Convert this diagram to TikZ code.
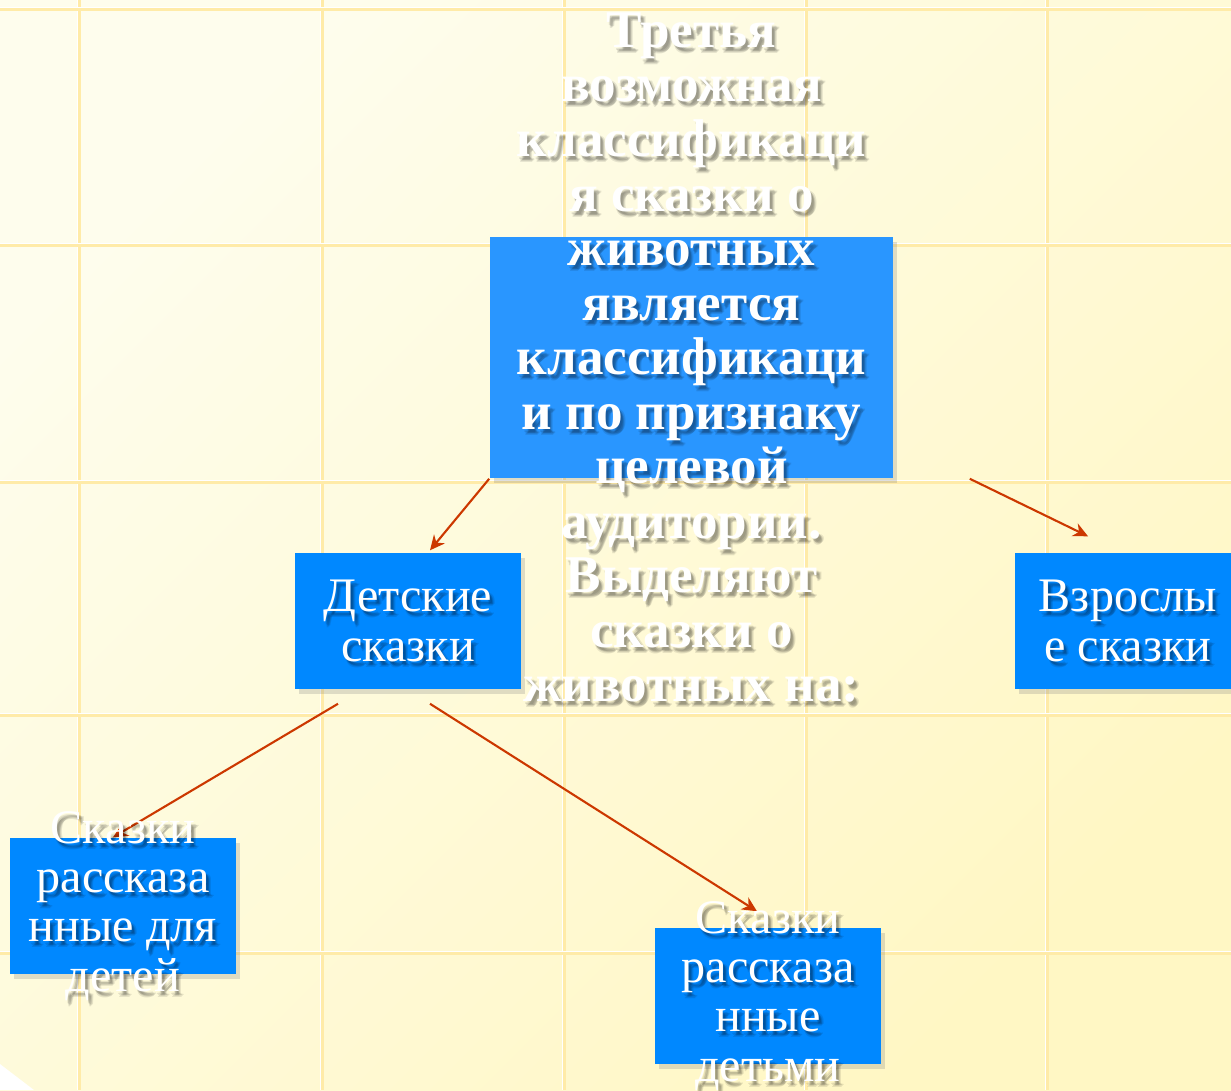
\documentclass[tikz,border=0pt]{standalone}
\usepackage{fontspec}
\setmainfont{Liberation Serif}
\usetikzlibrary{positioning}
\usetikzlibrary{calc}
\usetikzlibrary{shadows}
\usetikzlibrary{arrows.meta}
\definecolor{bgtl}{RGB}{254,253,237}
\definecolor{bgbr}{RGB}{255,247,196}
\definecolor{gridline}{RGB}{255,235,168}
\definecolor{mainblue}{RGB}{41,150,255}
\definecolor{boxblue}{RGB}{0,136,255}
\definecolor{arrowred}{RGB}{204,56,0}

\begin{document}
\begin{tikzpicture}[x=0.01cm,y=-0.01cm,
  box/.style={rectangle, fill=boxblue, inner sep=0pt, minimum width=2.26cm, minimum height=1.36cm,
    drop shadow={shadow xshift=1.2pt, shadow yshift=-1.5pt, opacity=0.25}},
  mainbox/.style={box, fill=mainblue, minimum width=4.03cm, minimum height=2.41cm},
  boxtext/.style={text=white, align=center, inner sep=0pt, font=\fontsize{13.7}{14}\selectfont},
  maintext/.style={text=white, align=center, inner sep=0pt, font=\bfseries\fontsize{15.1}{15.5}\selectfont},
  textshadow/.style={text=black, text opacity=0.09},
  arrow/.style={draw=arrowred, line width=0.6pt, -{Stealth[length=4.2pt,width=4pt]}}]

  % fond
  \useasboundingbox (0,0) rectangle (1231,1090);
  \shade[top color=bgtl, bottom color=bgbr, shading angle=45] (0,0) rectangle (1231,1090);
  \foreach \gx in {79, 322, 564, 806, 1047} {
    \draw[white, line width=0.4pt] (\gx-1.5, 0) -- (\gx-1.5, 1090);
    \draw[gridline, line width=0.65pt] (\gx+0.5, 0) -- (\gx+0.5, 1090);
  }
  \foreach \gy in {9, 245, 482, 715, 953} {
    \draw[white, line width=0.4pt] (0, \gy-1.5) -- (1231, \gy-1.5);
    \draw[gridline, line width=0.65pt] (0, \gy+0.5) -- (1231, \gy+0.5);
  }
  \fill[white] (0,1064) -- (34,1090) -- (0,1090) -- cycle;

  % boites
  \node[mainbox] (main) at (691.5, 357.5) {};
  \node[box] (kids) at (408, 621) {};
  \node[box] (adults) at (1128, 621) {};
  \node[box] (forkids) at (123, 906) {};
  \node[box] (bykids) at (768, 996) {};

  % fleches
  \draw[arrow] (main.south west) -- ($(kids.north)+(22,-2)$);
  \draw[arrow] ($(main.south east)+(76,0)$) -- ($(adults.north)+(-40,-16)$);
  \draw[arrow] ($(kids.south)+(-70,14)$) -- ($(forkids.north)+(-10,0)$);
  \draw[arrow] ($(kids.south)+(22,14)$) -- ($(bykids.north)+(-11,-16)$);

  % ombres floues des textes
  \foreach \dx/\dy [count=\k] in {2/3, 4/5, 3/6, 5/4, 3/4} {
    \node[maintext, textshadow] (mainsh\k) at ($(main)+(\dx,\dy)$)
      {Третья\\возможная\\классификаци\\я сказки о\\животных\\является\\классификаци\\и по признаку\\целевой\\аудитории.\\Выделяют\\сказки о\\животных на:};
    \node[boxtext, textshadow] (kidssh\k) at ($(kids)+(\dx,\dy)$) {Детские\\сказки};
    \node[boxtext, textshadow] (adultssh\k) at ($(adults)+(\dx,\dy)$) {Взрослы\\е сказки};
    \node[boxtext, textshadow] (forkidssh\k) at ($(forkids)+(\dx,\dy)$) {Сказки\\рассказа\\нные для\\детей};
    \node[boxtext, textshadow] (bykidssh\k) at ($(bykids)+(\dx,\dy)$) {Сказки\\рассказа\\нные\\детьми};
  }

  % textes
  \node[maintext] (maintxt) at (main)
    {Третья\\возможная\\классификаци\\я сказки о\\животных\\является\\классификаци\\и по признаку\\целевой\\аудитории.\\Выделяют\\сказки о\\животных на:};
  \node[boxtext] (kidstxt) at (kids) {Детские\\сказки};
  \node[boxtext] (adultstxt) at (adults) {Взрослы\\е сказки};
  \node[boxtext] (forkidstxt) at (forkids) {Сказки\\рассказа\\нные для\\детей};
  \node[boxtext] (bykidstxt) at (bykids) {Сказки\\рассказа\\нные\\детьми};
\end{tikzpicture}
\end{document}
